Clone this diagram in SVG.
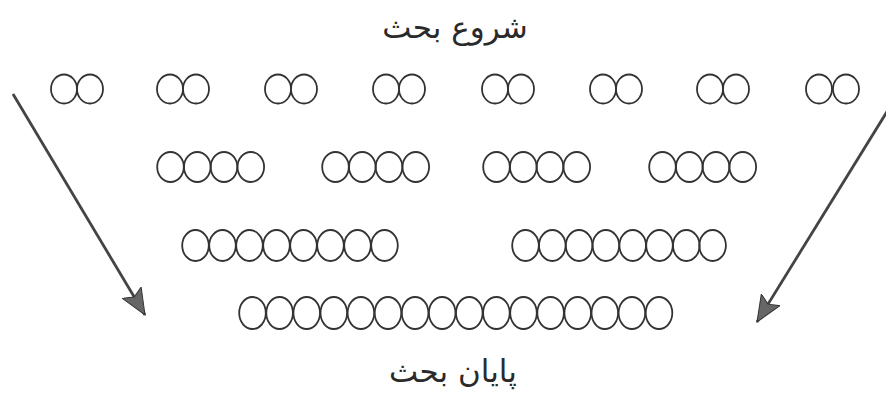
<svg xmlns="http://www.w3.org/2000/svg" xmlns:xlink="http://www.w3.org/1999/xlink" width="886" height="394" viewBox="0 0 886 394">
<style>
.c{fill:none;stroke:#333;stroke-width:1.8}
.t{font-family:"DejaVu Sans",sans-serif;font-size:31px;fill:#2a2a2a;text-anchor:middle}
.a{stroke:#444;stroke-width:2.8;fill:none}
</style>
<defs>
<ellipse id="e1" class="c" cx="0" cy="0" rx="13" ry="14.5"/>
<ellipse id="e2" class="c" cx="0" cy="0" rx="13.3" ry="15"/>
<ellipse id="e3" class="c" cx="0" cy="0" rx="13.3" ry="15.5"/>
<ellipse id="e4" class="c" cx="0" cy="0" rx="13.3" ry="16"/>
<marker id="ah" markerUnits="userSpaceOnUse" markerWidth="30" markerHeight="26" refX="26" refY="12" orient="auto" viewBox="0 0 30 24">
<path d="M0,1 L26,12 L0,23 L5,12 Z" fill="#666" stroke="#333" stroke-width="1"/>
</marker>
</defs>
<rect width="886" height="394" fill="#fff"/>
<g id="start"><text class="t" x="455" y="38">شروع بحث</text></g>
<g id="end"><text class="t" x="453" y="382">پایان بحث</text></g>
<g id="row1">
<g id="r1g1"><use xlink:href="#e1" x="64" y="89"/><use xlink:href="#e1" x="90" y="89"/></g>
<g id="r1g2"><use xlink:href="#e1" x="170" y="89"/><use xlink:href="#e1" x="196" y="89"/></g>
<g id="r1g3"><use xlink:href="#e1" x="278" y="89"/><use xlink:href="#e1" x="304" y="89"/></g>
<g id="r1g4"><use xlink:href="#e1" x="386" y="89"/><use xlink:href="#e1" x="412" y="89"/></g>
<g id="r1g5"><use xlink:href="#e1" x="495" y="89"/><use xlink:href="#e1" x="521" y="89"/></g>
<g id="r1g6"><use xlink:href="#e1" x="603" y="89"/><use xlink:href="#e1" x="629" y="89"/></g>
<g id="r1g7"><use xlink:href="#e1" x="710" y="89"/><use xlink:href="#e1" x="736" y="89"/></g>
<g id="r1g8"><use xlink:href="#e1" x="819" y="89"/><use xlink:href="#e1" x="846" y="89"/></g>
</g>
<g id="row2">
<g id="r2g1"><use xlink:href="#e2" x="170.5" y="167"/><use xlink:href="#e2" x="197.3" y="167"/><use xlink:href="#e2" x="224" y="167"/><use xlink:href="#e2" x="250.8" y="167"/></g>
<g id="r2g2"><use xlink:href="#e2" x="335.5" y="167"/><use xlink:href="#e2" x="362.3" y="167"/><use xlink:href="#e2" x="389" y="167"/><use xlink:href="#e2" x="415.8" y="167"/></g>
<g id="r2g3"><use xlink:href="#e2" x="496.5" y="167"/><use xlink:href="#e2" x="523.3" y="167"/><use xlink:href="#e2" x="550" y="167"/><use xlink:href="#e2" x="576.8" y="167"/></g>
<g id="r2g4"><use xlink:href="#e2" x="662.5" y="167"/><use xlink:href="#e2" x="689.3" y="167"/><use xlink:href="#e2" x="716" y="167"/><use xlink:href="#e2" x="742.8" y="167"/></g>
</g>
<g id="row3">
<g id="r3g1"><use xlink:href="#e3" x="195.5" y="245.5"/><use xlink:href="#e3" x="222.5" y="245.5"/><use xlink:href="#e3" x="249.5" y="245.5"/><use xlink:href="#e3" x="276.5" y="245.5"/><use xlink:href="#e3" x="303.5" y="245.5"/><use xlink:href="#e3" x="330.5" y="245.5"/><use xlink:href="#e3" x="357.5" y="245.5"/><use xlink:href="#e3" x="384.5" y="245.5"/></g>
<g id="r3g2"><use xlink:href="#e3" x="525.5" y="245.5"/><use xlink:href="#e3" x="552.3" y="245.5"/><use xlink:href="#e3" x="579.1" y="245.5"/><use xlink:href="#e3" x="605.9" y="245.5"/><use xlink:href="#e3" x="632.7" y="245.5"/><use xlink:href="#e3" x="659.5" y="245.5"/><use xlink:href="#e3" x="686.3" y="245.5"/><use xlink:href="#e3" x="712.6" y="245.5"/></g>
</g>
<g id="row4">
<use xlink:href="#e4" x="252.5" y="313"/><use xlink:href="#e4" x="279.6" y="313"/><use xlink:href="#e4" x="306.7" y="313"/><use xlink:href="#e4" x="333.8" y="313"/><use xlink:href="#e4" x="360.9" y="313"/><use xlink:href="#e4" x="388" y="313"/><use xlink:href="#e4" x="415.1" y="313"/><use xlink:href="#e4" x="442.2" y="313"/><use xlink:href="#e4" x="469.3" y="313"/><use xlink:href="#e4" x="496.4" y="313"/><use xlink:href="#e4" x="523.5" y="313"/><use xlink:href="#e4" x="550.6" y="313"/><use xlink:href="#e4" x="577.7" y="313"/><use xlink:href="#e4" x="604.8" y="313"/><use xlink:href="#e4" x="631.9" y="313"/><use xlink:href="#e4" x="659" y="313"/>
</g>
<g id="connectors">
<line class="a" x1="13" y1="94" x2="145" y2="315" marker-end="url(#ah)"/>
<line class="a" x1="888" y1="110" x2="757" y2="322" marker-end="url(#ah)"/>
</g>
</svg>
